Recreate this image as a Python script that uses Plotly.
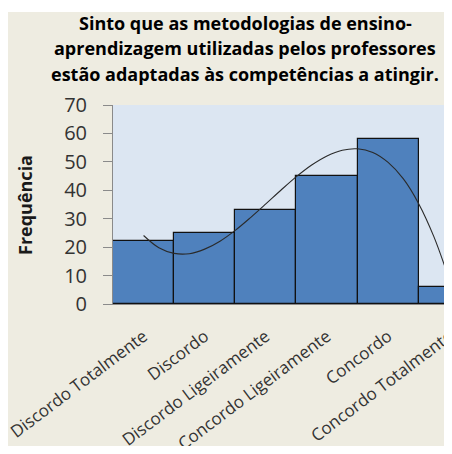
import plotly.graph_objects as go

# ---- data ----
categories = ["Discordo Totalmente", "Discordo", "Discordo Ligeiramente",
              "Concordo Ligeiramente", "Concordo", "Concordo Totalmente"]
frequencies = [22, 25, 33, 45, 58, 6]

# polynomial trend line, positions in category units
trend_x = [0, 0.25, 0.5, 0.75, 1, 1.25, 1.5, 1.75, 2, 2.25, 2.5,
           2.75, 3, 3.25, 3.5, 3.75, 4, 4.25, 4.5, 4.75, 5]
trend_y = [24.1, 19.8, 17.8, 17.7, 19.3, 22.1, 25.9, 30.4, 35.2, 40.1, 44.8,
           48.9, 52.1, 54.1, 54.6, 53.3, 49.8, 44.0, 35.3, 23.6, 8.6]

title_lines = ["Sinto que as metodologias de ensino-",
               "aprendizagem utilizadas pelos professores",
               "estão adaptadas às competências a atingir."]
y_title = "Frequência"
y_ticks = [0, 10, 20, 30, 40, 50, 60, 70]

OFF = 8  # page body margin
W, H = 444, 438
ML, MT, MR = 105, 97, 0
MB = H - (304 - OFF)
PW = W - ML - MR
PH = H - MT - MB

def px_x(p):  # p: page pixel of the reference
    return (p - OFF - ML) / PW

def px_y(p):
    return (H - MB - (p - OFF)) / PH

FONT = "Open Sans"

fig = go.Figure()
fig.add_trace(go.Bar(
    x=list(range(len(categories))), y=frequencies, width=1,
    marker=dict(color="#4F81BD", line=dict(color="#111111", width=1.2)),
    hoverinfo="y", showlegend=False))
fig.add_trace(go.Scatter(
    x=trend_x, y=trend_y, mode="lines",
    line=dict(color="#2a2a2a", width=1.1, shape="spline"),
    showlegend=False, hoverinfo="skip"))

annotations = []
for line, py in zip(title_lines, [22.5, 48.5, 74]):
    annotations.append(dict(
        text=f"<b>{line}</b>", xref="paper", yref="paper",
        x=px_x(245), y=px_y(py), xanchor="center", yanchor="middle",
        showarrow=False, font=dict(family=FONT, size=18, color="#000000")))
annotations.append(dict(
    text=f"<b>{y_title}</b>", xref="paper", yref="paper",
    x=px_x(25), y=px_y(205), xanchor="center", yanchor="middle",
    textangle=-90, showarrow=False,
    font=dict(family=FONT, size=18, color="#1a1a1a")))

shapes = [
    dict(type="rect", xref="paper", yref="paper", layer="below",
         x0=px_x(-20), x1=px_x(W + 30), y0=px_y(12), y1=px_y(-20),
         fillcolor="white", line=dict(width=0)),
]

fig.update_layout(
    width=W, height=H,
    margin=dict(l=ML, r=MR, t=MT, b=MB, pad=0, autoexpand=False),
    paper_bgcolor="#EEECE1", plot_bgcolor="#DCE6F2",
    bargap=0, annotations=annotations, shapes=shapes,
    font=dict(family=FONT, color="#333333"),
    xaxis=dict(range=[-0.5, 5.045], tickmode="array",
               tickvals=list(range(len(categories))), ticktext=categories,
               tickangle=-37, tickfont=dict(size=17, color="#333333"),
               ticklabelstandoff=15, ticklabeloverflow="allow",
               automargin=False,
               showline=True, linecolor="#8a8a8a", linewidth=1,
               showgrid=False, zeroline=False, ticks="", fixedrange=True),
    yaxis=dict(range=[0, 70], tickmode="array", tickvals=y_ticks,
               tickfont=dict(size=20, color="#333333"),
               ticklabelstandoff=12, automargin=False,
               showline=True, linecolor="#8a8a8a", linewidth=1,
               ticks="outside", ticklen=9, tickcolor="#8a8a8a",
               showgrid=False, zeroline=False, fixedrange=True),
)

fig.write_html("out.html")
